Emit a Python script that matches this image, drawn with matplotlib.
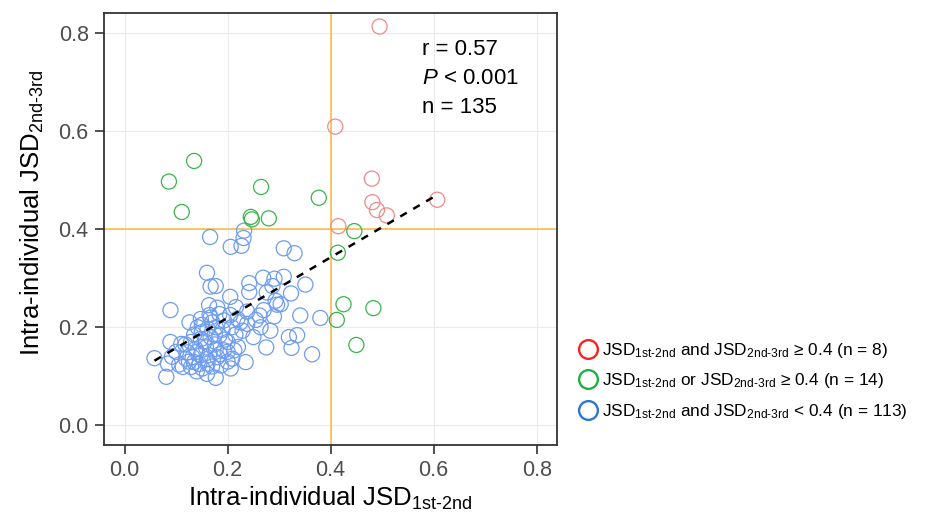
import numpy as np
import matplotlib
matplotlib.use("Agg")
import matplotlib.pyplot as plt
from matplotlib.lines import Line2D

plt.rcParams['font.family'] = ['Liberation Sans', 'DejaVu Sans']
plt.rcParams['mathtext.fontset'] = 'custom'
plt.rcParams['mathtext.rm'] = 'Liberation Sans'
plt.rcParams['mathtext.it'] = 'Liberation Sans:italic'
plt.rcParams['mathtext.bf'] = 'Liberation Sans:bold'

# both JSD >= 0.4
red_x = [0.495, 0.409, 0.480, 0.481, 0.490, 0.509, 0.607, 0.415]
red_y = [0.813, 0.609, 0.503, 0.455, 0.439, 0.428, 0.460, 0.406]

# one JSD >= 0.4
green_x = [0.135, 0.086, 0.111, 0.265, 0.377, 0.245, 0.247, 0.280, 0.446, 0.414, 0.425, 0.483, 0.412, 0.450]
green_y = [0.539, 0.497, 0.435, 0.486, 0.464, 0.425, 0.420, 0.422, 0.396, 0.352, 0.247, 0.239, 0.215, 0.164]

# both JSD < 0.4
blue_x = [0.166, 0.232, 0.231, 0.206, 0.227, 0.309, 0.330, 0.160, 0.167, 0.177,
          0.269, 0.291, 0.309, 0.351, 0.242, 0.242, 0.287, 0.323, 0.205, 0.276,
          0.293, 0.296, 0.303, 0.164, 0.089, 0.216, 0.238, 0.341, 0.380, 0.290,
          0.262, 0.126, 0.148, 0.167, 0.184, 0.193, 0.219, 0.238, 0.264, 0.283,
          0.229, 0.208, 0.142, 0.161, 0.177, 0.319, 0.335, 0.324, 0.275, 0.364,
          0.089, 0.110, 0.129, 0.148, 0.167, 0.184, 0.200, 0.213, 0.193, 0.177,
          0.158, 0.138, 0.122, 0.058, 0.084, 0.106, 0.119, 0.132, 0.148, 0.164,
          0.180, 0.209, 0.235, 0.206, 0.177, 0.081, 0.151, 0.129, 0.113, 0.135,
          0.161, 0.187,
          0.150, 0.170, 0.190, 0.155, 0.175, 0.195, 0.140, 0.160, 0.185, 0.200,
          0.145, 0.170, 0.125, 0.215, 0.225, 0.205, 0.180, 0.165, 0.150, 0.135,
          0.118, 0.100, 0.092, 0.140, 0.160, 0.200, 0.220, 0.250, 0.255, 0.270,
          0.175]
blue_y = [0.384, 0.397, 0.382, 0.364, 0.366, 0.361, 0.351, 0.311, 0.283, 0.284,
          0.301, 0.299, 0.303, 0.287, 0.290, 0.272, 0.284, 0.269, 0.262, 0.271,
          0.254, 0.246, 0.247, 0.245, 0.235, 0.241, 0.232, 0.224, 0.219, 0.222,
          0.224, 0.210, 0.217, 0.220, 0.227, 0.214, 0.217, 0.207, 0.200, 0.193,
          0.193, 0.200, 0.200, 0.197, 0.200, 0.180, 0.184, 0.158, 0.159, 0.145,
          0.170, 0.166, 0.170, 0.176, 0.180, 0.183, 0.170, 0.153, 0.153, 0.156,
          0.159, 0.156, 0.149, 0.137, 0.126, 0.124, 0.136, 0.139, 0.143, 0.143,
          0.139, 0.136, 0.129, 0.116, 0.097, 0.099, 0.116, 0.119, 0.119, 0.129,
          0.126, 0.122,
          0.190, 0.210, 0.195, 0.170, 0.165, 0.175, 0.150, 0.135, 0.145, 0.150,
          0.125, 0.120, 0.130, 0.185, 0.210, 0.225, 0.240, 0.225, 0.205, 0.185,
          0.165, 0.150, 0.140, 0.110, 0.105, 0.130, 0.160, 0.180, 0.215, 0.235,
          0.185]

threshold = 0.4
ticks = [0.0, 0.2, 0.4, 0.6, 0.8]
tick_labels = ["0.0", "0.2", "0.4", "0.6", "0.8"]
stats_text = "r = 0.57\n$\\it{P}$ < 0.001\nn = 135"
sub12 = "$_{\\mathrm{1st\u20102nd}}$"
sub23 = "$_{\\mathrm{2nd\u20103rd}}$"
legend_labels = [
    f"JSD{sub12} and JSD{sub23} \u2265 0.4 (n = 8)",
    f"JSD{sub12} or JSD{sub23} \u2265 0.4 (n = 14)",
    f"JSD{sub12} and JSD{sub23} < 0.4 (n = 113)",
]

fig = plt.figure(figsize=(9.26, 5.23), dpi=100)
ax = fig.add_axes([0.1123, 0.1491, 0.4895, 0.8255])

ax.set_xlim(-0.04, 0.84)
ax.set_ylim(-0.04, 0.84)
ax.set_xticks(ticks)
ax.set_xticklabels(tick_labels)
ax.set_yticks(ticks)
ax.set_yticklabels(tick_labels)
ax.grid(True, color='#ebebeb', linewidth=0.8)
ax.set_axisbelow(True)

ax.axvline(threshold, color='#f9b940', linewidth=1.1, zorder=1)
ax.axhline(threshold, color='#f9b940', linewidth=1.1, zorder=1)

ms = 118
ax.scatter(blue_x, blue_y, s=ms, facecolors='none', edgecolors='#6d9cf2', linewidths=0.9, zorder=2)
ax.scatter(green_x, green_y, s=ms, facecolors='none', edgecolors='#39b54a', linewidths=0.9, zorder=2)
ax.scatter(red_x, red_y, s=ms, facecolors='none', edgecolors='#f08a88', linewidths=0.9, zorder=2)

# linear fit over all points
all_x = np.array(red_x + green_x + blue_x)
all_y = np.array(red_y + green_y + blue_y)
slope, intercept = np.polyfit(all_x, all_y, 1)
fx = np.array([all_x.min(), all_x.max()])
ax.plot(fx, slope * fx + intercept, color='black', linestyle=(0, (3, 3)), linewidth=1.8, zorder=3)

ax.text(0.578, 0.788, stats_text, fontsize=16, va='top', ha='left', linespacing=1.5)

for s in ax.spines.values():
    s.set_color('#333333')
    s.set_linewidth(1.3)
ax.tick_params(axis='both', direction='out', length=6.5, width=1.2, color='#333333',
               labelsize=15.5, labelcolor='#4d4d4d')
ax.tick_params(axis='y', pad=4.5)
ax.tick_params(axis='x', pad=4)

ax.set_xlabel("Intra-individual JSD" + sub12, fontsize=18.5, labelpad=3)
ax.set_ylabel("Intra-individual JSD" + sub23, fontsize=18.5)
ax.yaxis.set_label_coords(-0.127, 0.537)

handles = [Line2D([], [], marker='o', linestyle='none', markerfacecolor='none',
                  markeredgecolor=c, markersize=13.5, markeredgewidth=1.7)
           for c in ['#ff2020', '#20b040', '#2878d0']]
fig.legend(handles, legend_labels, loc='center left', bbox_to_anchor=(0.607, 0.272),
           frameon=False, fontsize=12.4, handletextpad=0.2, labelspacing=0.68,
           handlelength=1.2)

fig.savefig("out.png", dpi=100)
